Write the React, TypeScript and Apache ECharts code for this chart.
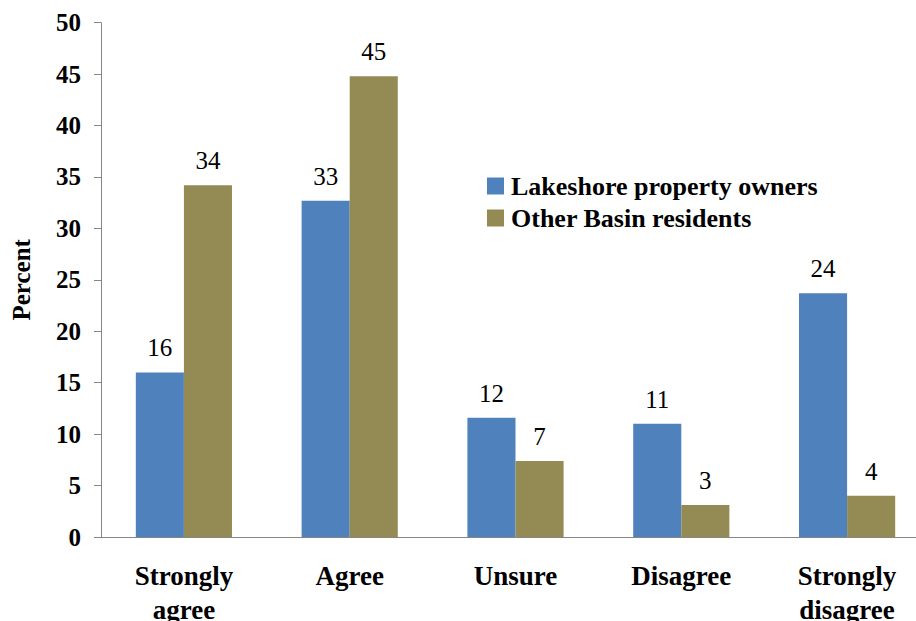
import React, { useEffect, useRef } from "react";
import * as echarts from "echarts";

const categories = ["Strongly\nagree", "Agree", "Unsure", "Disagree", "Strongly\ndisagree"];
const lakeshore = [16.0, 32.7, 11.6, 11.0, 23.7];
const otherBasin = [34.2, 44.8, 7.4, 3.1, 4.0];
const seriesNames = ["Lakeshore property owners", "Other Basin residents"];

const FONT = "Times New Roman, Liberation Serif, DejaVu Serif, serif";

export default function App() {
  const ref = useRef<HTMLDivElement>(null);
  useEffect(() => {
    if (!ref.current) return;
    const chart = echarts.init(ref.current, null, { renderer: "svg" });
    const label = {
      show: true,
      position: "top",
      distance: 12,
      fontFamily: FONT,
      fontSize: 25,
      color: "#000",
      formatter: (p: any) => String(Math.round(p.value)),
    };
    chart.setOption({
      animation: false,
      backgroundColor: "#fff",
      textStyle: { fontFamily: FONT },
      grid: {
        left: 101,
        top: 22.7,
        right: 0,
        bottom: 84,
        containLabel: false,
        outerBoundsMode: "none",
      },
      legend: {
        orient: "vertical",
        left: 487,
        top: 172,
        padding: 0,
        itemWidth: 17,
        itemHeight: 17,
        itemGap: 4,
        icon: "rect",
        textStyle: {
          fontFamily: FONT,
          fontWeight: "bold",
          fontSize: 26,
          lineHeight: 28,
          color: "#000",
          padding: [0, 0, 0, 2],
        },
        data: seriesNames,
      },
      xAxis: {
        type: "category",
        data: categories,
        axisLine: { lineStyle: { color: "#868686", width: 1 } },
        axisTick: { show: false },
        axisLabel: {
          fontFamily: FONT,
          fontWeight: "bold",
          fontSize: 27,
          lineHeight: 34,
          color: "#000",
          margin: 22,
          interval: 0,
        },
      },
      yAxis: {
        type: "value",
        min: 0,
        max: 50,
        interval: 5,
        name: "Percent",
        nameLocation: "middle",
        nameGap: 67,
        nameRotate: 90,
        nameTextStyle: { fontFamily: FONT, fontWeight: "bold", fontSize: 25, color: "#000" },
        axisLine: { show: true, lineStyle: { color: "#868686", width: 1 } },
        axisTick: { show: true, length: 7, lineStyle: { color: "#868686" } },
        splitLine: { show: false },
        axisLabel: {
          fontFamily: FONT,
          fontWeight: "bold",
          fontSize: 25,
          color: "#000",
          margin: 20,
        },
      },
      series: [
        {
          name: seriesNames[0],
          type: "bar",
          data: lakeshore,
          barWidth: "29%",
          barGap: "0%",
          itemStyle: { color: "#4F81BD" },
          label,
        },
        {
          name: seriesNames[1],
          type: "bar",
          data: otherBasin,
          barWidth: "29%",
          barGap: "0%",
          itemStyle: { color: "#948A54" },
          label,
        },
      ],
    });
    return () => chart.dispose();
  }, []);
  return (
    <div style={{ position: "fixed", left: 0, top: 0, width: 916, height: 621, overflow: "hidden", background: "#fff" }}>
      <div ref={ref} style={{ position: "absolute", left: 0, top: 0, width: 930, height: 621 }} />
    </div>
  );
}
